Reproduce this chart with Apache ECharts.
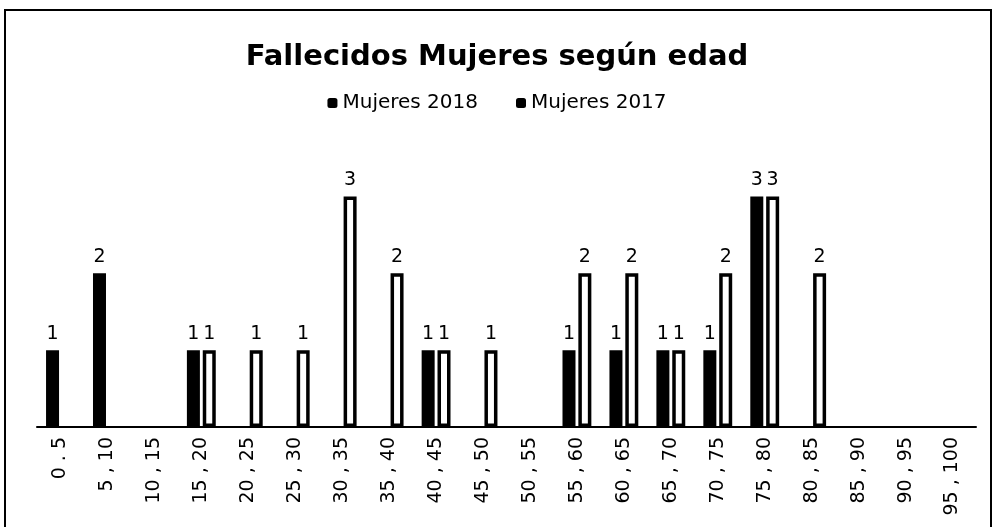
<!DOCTYPE html>
<html>
<head>
<meta charset="utf-8">
<script src="https://cdn.jsdelivr.net/npm/echarts@6/dist/echarts.min.js"></script>
<style>
  html, body { margin: 0; padding: 0; background: #fff; }
  #chart { width: 994px; height: 527px; }
</style>
</head>
<body>
<div id="chart"></div>
<script>
// tramos de edad (eje X)
const edades = ['0 . 5', '5 , 10', '10 , 15', '15 , 20', '20 , 25', '25 , 30', '30 , 35',
  '35 , 40', '40 , 45', '45 , 50', '50 , 55', '55 , 60', '60 , 65', '65 , 70',
  '70 , 75', '75 , 80', '80 , 85', '85 , 90', '90 , 95', '95 , 100']
// fallecidas por tramo, null = sin casos (sin etiqueta)
const mujeres2018 = [1, 2, null, 1, null, null, null, null, 1, null, null, 1, 1, 1, 1, 3, null, null, null, null]
const mujeres2017 = [null, null, null, 1, 1, 1, 3, 2, 1, 1, null, 2, 2, 1, 2, 3, 2, null, null, null]

const chart = echarts.init(document.getElementById('chart'))
const fuente = 'DejaVu Sans'

const option = {
  backgroundColor: '#fff',
  animation: false,
  title: {
    text: 'Fallecidos Mujeres según edad',
    left: 'center',
    top: 38,
    textStyle: { fontFamily: fuente, fontSize: 29, fontWeight: 'bold', color: '#000' }
  },
  legend: {
    top: 88,
    left: 'center',
    itemWidth: 10,
    itemHeight: 10,
    itemGap: 38,
    textStyle: { fontFamily: fuente, fontSize: 20, color: '#000' },
    data: [
      { name: 'Mujeres 2018', itemStyle: { color: '#000' } },
      { name: 'Mujeres 2017', itemStyle: { color: '#000', borderWidth: 0 } }
    ]
  },
  graphic: [{
    type: 'rect',
    shape: { x: 5, y: 10, width: 986, height: 530 },
    style: { fill: 'none', stroke: '#000', lineWidth: 2 },
    silent: true
  }],
  grid: { left: 37, right: 18, top: 158, bottom: 100 },
  xAxis: {
    type: 'category',
    data: edades,
    axisLine: { lineStyle: { color: '#000', width: 2 } },
    axisTick: { show: false },
    axisLabel: { rotate: 90, margin: 10, fontFamily: fuente, fontSize: 19, color: '#000', interval: 0 }
  },
  yAxis: {
    type: 'value',
    min: 0,
    max: 3.5,
    show: false,
    splitLine: { show: false }
  },
  series: [
    {
      name: 'Mujeres 2018',
      type: 'bar',
      data: mujeres2018,
      barWidth: 13,
      barGap: '22%',
      itemStyle: { color: '#000' },
      label: { show: true, position: 'top', distance: 7, fontFamily: fuente, fontSize: 19, color: '#000' }
    },
    {
      name: 'Mujeres 2017',
      type: 'bar',
      data: mujeres2017,
      barWidth: 13,
      itemStyle: { color: '#fff', borderColor: '#000', borderWidth: 3.5 },
      label: { show: true, position: 'top', distance: 7, fontFamily: fuente, fontSize: 19, color: '#000' }
    }
  ]
}

chart.setOption(option)
</script>
</body>
</html>
